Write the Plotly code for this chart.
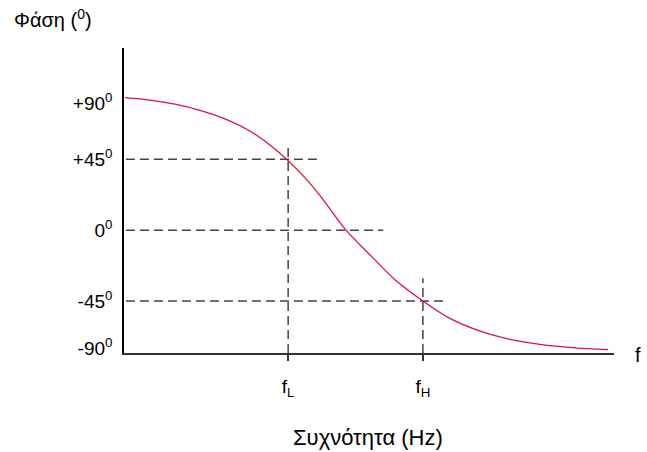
import plotly.graph_objects as go

# Phase curve (schematic display units: x = relative frequency position, y = phase in degrees)
curve_x = [0.2, 5.3, 10.4, 15.5, 20.6, 25.7, 30.8, 35.9, 40.0, 45.3, 50.2, 55.3, 61.0,
           66.5, 72.7, 78.8, 84.9, 92.0, 98.8]
curve_y = [84.2, 82.7, 80.1, 76.2, 70.8, 63.0, 51.6, 36.7, 22.0, 0.0, -15.7, -31.5, -45.0,
           -56.1, -64.2, -69.4, -72.6, -74.8, -76.0]

# reference levels (horizontal dashed lines) and their right ends
level_y = [45, 0, -45]
level_end_x = [39.8, 52.9, 65.5]

# corner frequencies (vertical dashed lines) and their top ends
freq_names = ["f<sub>L</sub>", "f<sub>H</sub>"]
freq_x = [33.5, 61.0]
freq_top_y = [54.6, -30.5]

# y tick labels
ytick_vals = [80.9, 45, 0, -45, -75]
ytick_text = ["+90<sup>0</sup>", "+45<sup>0</sup>", "0<sup>0</sup>", "-45<sup>0</sup>", "-90<sup>0</sup>"]

x_range = [0, 100]
y_range = [-78.1, 115.8]

FONT = "Liberation Sans, Arial, sans-serif"
DASH_COLOR = "#444444"

fig = go.Figure()

for ly, lx in zip(level_y, level_end_x):
    fig.add_trace(go.Scatter(x=[0.4, lx], y=[ly, ly], mode="lines",
                             line=dict(color=DASH_COLOR, width=1.5, dash="9px,5px"),
                             hoverinfo="skip", showlegend=False))

for fx, fy in zip(freq_x, freq_top_y):
    fig.add_trace(go.Scatter(x=[fx, fx], y=[y_range[0], fy], mode="lines",
                             line=dict(color=DASH_COLOR, width=1.5, dash="9px,5px"),
                             hoverinfo="skip", showlegend=False))

fig.add_trace(go.Scatter(x=curve_x, y=curve_y, mode="lines",
                         line=dict(color="#dc143c", width=1.3, shape="spline", smoothing=0.8),
                         showlegend=False))

fig.update_layout(
    width=647, height=452,
    margin=dict(l=124, r=33, t=48, b=99),
    paper_bgcolor="white", plot_bgcolor="white",
    font=dict(family=FONT, size=19, color="black"),
    showlegend=False,
    xaxis=dict(range=x_range, showgrid=False, zeroline=False,
               showline=True, linecolor="#333333", linewidth=1.5,
               tickmode="array", tickvals=freq_x, ticktext=freq_names,
               ticks="outside", ticklen=6, tickwidth=1.5, tickcolor="#333333",
               ticklabelstandoff=9, tickfont=dict(size=19)),
    yaxis=dict(range=y_range, showgrid=False, zeroline=False,
               showline=True, linecolor="black", linewidth=1.5,
               tickmode="array", tickvals=ytick_vals, ticktext=ytick_text,
               ticks="", ticklabelstandoff=6, tickfont=dict(size=19)),
    annotations=[
        dict(text="Φάση (<sup>0</sup>)", xref="paper", yref="paper", x=-0.2286, y=1.097,
             xanchor="left", yanchor="middle", showarrow=False, font=dict(size=20)),
        dict(text="Συχνότητα (Hz)", xref="paper", yref="paper", x=0.497, y=-0.278,
             xanchor="center", yanchor="middle", showarrow=False, font=dict(size=22)),
        dict(text="f", xref="paper", yref="paper", x=1.049, y=-0.007,
             xanchor="center", yanchor="middle", showarrow=False, font=dict(size=20)),
    ],
)

fig.write_html("out.html")
